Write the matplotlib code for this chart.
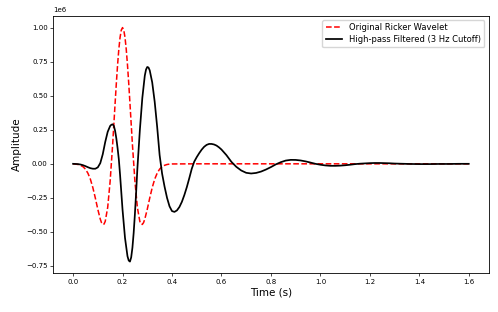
import numpy as np
import matplotlib
matplotlib.use("Agg")
import matplotlib.pyplot as plt

# time axis (s) for the original wavelet
t_ricker = [0.00, 0.01, 0.02, 0.03, 0.04, 0.05, 0.06, 0.07, 0.08, 0.09, 0.10,
            0.11, 0.115, 0.12, 0.125, 0.13, 0.14, 0.15, 0.16, 0.17, 0.175, 0.18,
            0.185, 0.19, 0.195, 0.20, 0.205, 0.21, 0.215, 0.22, 0.225, 0.23, 0.24,
            0.25, 0.26, 0.27, 0.275, 0.28, 0.285, 0.29, 0.30, 0.31, 0.32, 0.33,
            0.34, 0.35, 0.36, 0.37, 0.38, 0.39, 0.40, 0.50, 0.70, 1.00, 1.30, 1.60]
ricker = [-0.001, -0.002, -0.005, -0.011, -0.021, -0.039, -0.069, -0.113,
          -0.175, -0.251, -0.334, -0.406, -0.432, -0.445, -0.443, -0.423, -0.320,
          -0.126, 0.142, 0.445, 0.593, 0.727, 0.841, 0.928, 0.982, 1.000, 0.982,
          0.928, 0.841, 0.727, 0.593, 0.445, 0.142, -0.126, -0.320, -0.423, -0.443,
          -0.445, -0.432, -0.406, -0.334, -0.251, -0.175, -0.113, -0.069, -0.039,
          -0.021, -0.011, -0.005, -0.002, -0.001, 0.000, 0.000, 0.000, 0.000,
          0.000]

# time axis (s) for the high-pass filtered trace
t_hp = [0.00, 0.01, 0.02, 0.03, 0.04, 0.05, 0.06, 0.07, 0.08, 0.09, 0.10, 0.11,
        0.12, 0.13, 0.14, 0.15, 0.155, 0.16, 0.165, 0.17, 0.175, 0.18, 0.185,
        0.19, 0.20, 0.21, 0.22, 0.225, 0.23, 0.235, 0.24, 0.245, 0.25, 0.255,
        0.26, 0.27, 0.28, 0.29, 0.295, 0.30, 0.305, 0.31, 0.32, 0.33, 0.34, 0.35,
        0.36, 0.37, 0.38, 0.39, 0.40, 0.41, 0.42, 0.43, 0.44, 0.45, 0.46, 0.47,
        0.48, 0.49, 0.50, 0.51, 0.52, 0.53, 0.54, 0.55, 0.56, 0.57, 0.58, 0.59,
        0.60, 0.62, 0.64, 0.66, 0.68, 0.70, 0.72, 0.74, 0.76, 0.78, 0.80, 0.82,
        0.84, 0.86, 0.88, 0.90, 0.92, 0.94, 0.96, 0.98, 1.00, 1.02, 1.04, 1.06,
        1.08, 1.10, 1.12, 1.14, 1.16, 1.18, 1.20, 1.22, 1.24, 1.26, 1.28, 1.30,
        1.32, 1.34, 1.36, 1.40, 1.44, 1.48, 1.52, 1.56, 1.60]
highpass = [0.000, -0.001, -0.002, -0.005, -0.010, -0.017, -0.025, -0.032, -0.036,
            -0.036, -0.026, 0.005, 0.070, 0.160, 0.235, 0.278, 0.287, 0.290, 0.278,
            0.242, 0.186, 0.115, 0.034, -0.080, -0.336, -0.544, -0.678, -0.710,
            -0.718, -0.687, -0.616, -0.508, -0.370, -0.210, -0.037, 0.246, 0.483,
            0.647, 0.692, 0.711, 0.707, 0.686, 0.598, 0.456, 0.272, 0.064, -0.072,
            -0.168, -0.250, -0.312, -0.347, -0.353, -0.342, -0.317, -0.279, -0.229,
            -0.171, -0.105, -0.036, 0.016, 0.049, 0.078, 0.104, 0.125, 0.139, 0.146,
            0.146, 0.142, 0.134, 0.121, 0.105, 0.064, 0.015, -0.022, -0.049, -0.066,
            -0.071, -0.067, -0.057, -0.042, -0.024, -0.004, 0.012, 0.024, 0.029,
            0.0286, 0.0246, 0.0179, 0.0092, 0.000, -0.0067, -0.0118, -0.0146,
            -0.0148, -0.0134, -0.0106, -0.0068, -0.0023, 0.001, 0.003, 0.005, 0.006,
            0.006, 0.005, 0.004, 0.002, 0.001, 0.000, -0.001, -0.002, -0.002,
            -0.001, -0.001, 0.000, 0.000]

t_ricker = np.array(t_ricker)
ricker = np.array(ricker) * 1e6
t_hp = np.array(t_hp)
highpass = np.array(highpass) * 1e6

fig = plt.figure(figsize=(4.98, 3.12), dpi=100)
ax = fig.add_axes([0.107, 0.124, 0.874, 0.825])

ax.plot(t_ricker, ricker, 'r--', lw=1.1, label='Original Ricker Wavelet')
ax.plot(t_hp, highpass, 'k-', lw=1.25, label='High-pass Filtered (3 Hz Cutoff)')

ax.set_xlabel('Time (s)', fontsize=7.5, labelpad=2)
ax.set_ylabel('Amplitude', fontsize=7.5, labelpad=3)
ax.tick_params(labelsize=5, length=2, width=0.5, pad=2)
ax.yaxis.get_offset_text().set_fontsize(5)
for s in ax.spines.values():
    s.set_linewidth(0.6)

ax.legend(fontsize=6, loc='upper right', handlelength=2.0, borderpad=0.4,
          labelspacing=0.3, framealpha=0.8, fancybox=True)

fig.savefig('out.png', dpi=100)
